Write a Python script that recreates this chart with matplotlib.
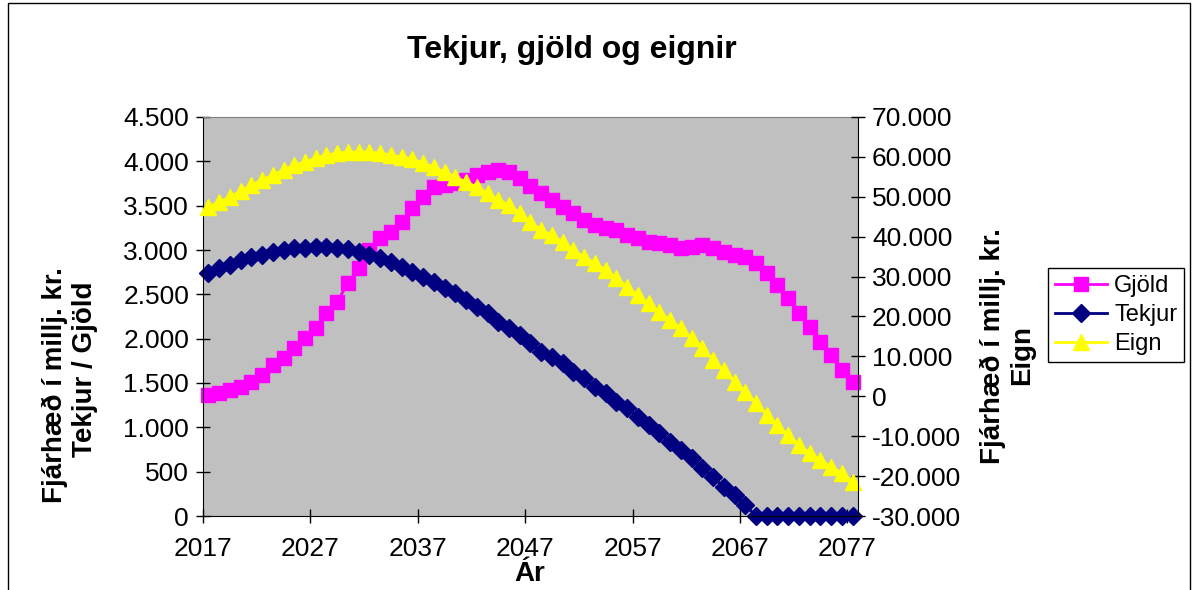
import numpy as np
import matplotlib
matplotlib.use('Agg')
import matplotlib.pyplot as plt
from matplotlib.ticker import FuncFormatter, MultipleLocator
from matplotlib.patches import Rectangle

plt.rcParams['font.family'] = ['Liberation Sans', 'DejaVu Sans']

# ár 2017-2077
years = np.arange(2017, 2078)

# Gjöld (vinstri ás)
gjold = [1365, 1385, 1420, 1455, 1510, 1590, 1705, 1780, 1895, 2010,
         2120, 2290, 2415, 2630, 2795, 3000, 3135, 3205, 3315, 3475,
         3600, 3710, 3730, 3755, 3790, 3845, 3880, 3900, 3880, 3810,
         3725, 3645, 3565, 3485, 3415, 3340, 3280, 3250, 3225, 3170,
         3135, 3090, 3080, 3055, 3020, 3030, 3055, 3020, 2980, 2945,
         2920, 2855, 2740, 2605, 2460, 2290, 2130, 1960, 1815, 1645,
         1510]

# Tekjur (vinstri ás)
tekjur = [2740, 2795, 2830, 2885, 2920, 2945, 2975, 3000, 3020, 3020,
          3035, 3035, 3020, 3010, 2975, 2945, 2910, 2865, 2810, 2750,
          2695, 2640, 2570, 2515, 2435, 2355, 2290, 2190, 2120, 2040,
          1950, 1850, 1795, 1725, 1625, 1555, 1455, 1385, 1285, 1220,
          1115, 1025, 935, 835, 745, 655, 540, 440, 325, 235,
          125, 0, 0, 0, 0, 0, 0, 0, 0, 0,
          0]

# Eign (hægri ás)
eign = [47435, 48690, 49940, 51445, 52950, 54200, 55455, 56710, 57960, 58710,
        59715, 60465, 60970, 61220, 61220, 61220, 60970, 60465, 59965, 59465,
        58460, 57460, 56205, 54950, 53700, 52445, 50940, 49190, 47940, 45930,
        43675, 41670, 40420, 38665, 36660, 34905, 33400, 31650, 29640, 27385,
        25380, 23380, 21120, 19120, 17110, 14605, 12100, 9095, 6590, 3580,
        1075, -1680, -4690, -7195, -9700, -12200, -14210, -15965, -17720, -19225,
        -21480]

W, H = 1193, 590
fig = plt.figure(figsize=(W / 100, H / 100), dpi=100)

# rammi utan um allt
fig.patches.append(Rectangle((8 / W, -0.01), (1190 - 8) / W, 1 - 3 / H + 0.01,
                             transform=fig.transFigure, fill=False,
                             edgecolor='black', linewidth=1))

ax = fig.add_axes([203 / W, (H - 516) / H, 655 / W, 399 / H])
ax.set_facecolor('#C0C0C0')

l1 = ax.plot(years, gjold, color='#FF00FF', marker='s', ms=10, lw=2,
             label='Gjöld', clip_on=False)
l2 = ax.plot(years, tekjur, color='#000080', marker='D', ms=9.5, lw=2,
             label='Tekjur', clip_on=False)

ax2 = ax.twinx()
l3 = ax2.plot(years, eign, color='#FFFF00', marker='^', ms=11, lw=2,
              label='Eign', clip_on=False)

thou = FuncFormatter(lambda v, p: f'{int(round(v)):,}'.replace(',', '.'))

ax.set_xlim(2016.5, 2077.5)
ax.set_xticks(np.arange(2016.5, 2077, 10))
ax.set_xticklabels([str(y) for y in range(2017, 2078, 10)])
ax.set_ylim(0, 4500)
ax.yaxis.set_major_locator(MultipleLocator(500))
ax.yaxis.set_major_formatter(thou)
ax2.set_ylim(-30000, 70000)
ax2.yaxis.set_major_locator(MultipleLocator(10000))
ax2.yaxis.set_major_formatter(thou)

ax.tick_params(axis='y', direction='inout', length=10, width=1,
               labelsize=19, pad=5)
ax.tick_params(axis='x', direction='inout', length=10, width=1,
               labelsize=19, pad=10)
ax2.tick_params(direction='inout', length=10, width=1, labelsize=19, pad=5)

ax.spines['top'].set_color('#808080')
ax.spines['right'].set_visible(False)
for s in ['left', 'bottom', 'top']:
    ax2.spines[s].set_visible(False)

fig.text(572 / W, 1 - 50 / H, 'Tekjur, gjöld og eignir', ha='center',
         va='center', fontsize=23, fontweight='bold')
fig.text(530 / W, 1 - 574 / H, 'Ár', ha='center', va='center',
         fontsize=20, fontweight='bold')
fig.text(55 / W, 1 - 385 / H, 'Fjárhæð í millj. kr.', rotation=90,
         ha='center', va='center', fontsize=20, fontweight='bold')
fig.text(85 / W, 1 - 369 / H, 'Tekjur / Gjöld', rotation=90,
         ha='center', va='center', fontsize=20, fontweight='bold')
fig.text(993 / W, 1 - 346 / H, 'Fjárhæð í millj. kr.', rotation=90,
         ha='center', va='center', fontsize=20, fontweight='bold')
fig.text(1022 / W, 1 - 355 / H, 'Eign', rotation=90,
         ha='center', va='center', fontsize=20, fontweight='bold')

lines = l1 + l2 + l3
leg = fig.legend(lines, [l.get_label() for l in lines], loc='upper left',
                 bbox_to_anchor=(1048 / W, 1 - 268 / H), fontsize=17,
                 frameon=True, fancybox=False, framealpha=1,
                 edgecolor='black', handlelength=2.2, borderaxespad=0,
                 labelspacing=0.3, borderpad=0.3, handletextpad=0.3)
leg.get_frame().set_linewidth(1)

fig.savefig('out.png', dpi=100)
